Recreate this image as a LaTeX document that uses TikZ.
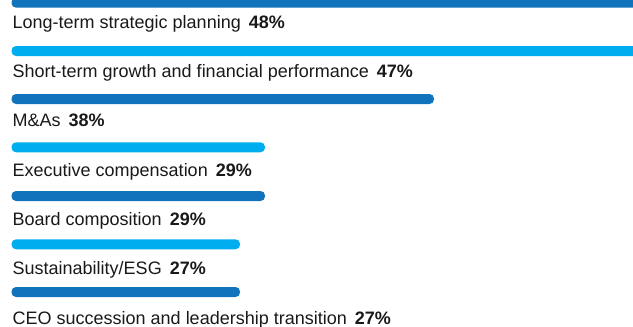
\documentclass[tikz,border=0pt]{standalone}
\usepackage{fontspec}
\setmainfont{Liberation Sans}
\usepackage{xcolor}
\definecolor{colorDark}{RGB}{16,115,188}
\definecolor{colorLight}{RGB}{0,174,239}
\colorlet{colorText}{black!90}
\usetikzlibrary{positioning}
\tikzset{
  bar/.style={rectangle, rounded corners=4.5pt, inner sep=0pt, outer sep=0pt, minimum height=10pt, anchor=north west},
  barDark/.style={bar, fill=colorDark},
  barLight/.style={bar, fill=colorLight},
  lbl/.style={inner sep=0pt, outer sep=0pt, anchor=base west, text=colorText, font=\fontsize{18}{20}\selectfont},
  pct/.style={lbl, font=\fontsize{18}{20}\selectfont\bfseries},
}

\begin{document}
\begin{tikzpicture}[x=1pt, y=-1pt]
\path[use as bounding box, clip] (0,0) rectangle (633,327);
% bars
\node[barDark, minimum width=650pt] (b1) at (11.5,-2.3) {};
\node[barLight, minimum width=650pt] (b2) at (11.5,46) {};
\node[barDark, minimum width=422.5pt] (b3) at (11.5,94) {};
\node[barLight, minimum width=253.5pt] (b4) at (11.5,142.3) {};
\node[barDark, minimum width=253.5pt] (b5) at (11.5,191) {};
\node[barLight, minimum width=228.5pt] (b6) at (11.5,239.3) {};
\node[barDark, minimum width=228.5pt] (b7) at (11.5,287) {};
% labels
\node[lbl] (l1) at (12.7,28.3) {Long-term strategic planning};
\node[lbl] (l2) at (12.7,77.6) {Short-term growth and financial performance};
\node[lbl] (l3) at (12.7,126.9) {M\&As};
\node[lbl] (l4) at (12.7,176.2) {Executive compensation};
\node[lbl] (l5) at (12.7,225.5) {Board composition};
\node[lbl] (l6) at (12.7,274.8) {Sustainability/ESG};
\node[lbl] (l7) at (12.7,324) {CEO succession and leadership transition};
% values
\node[pct, right=8pt of l1.base east, anchor=base west] (v1) {48\%};
\node[pct, right=8pt of l2.base east, anchor=base west] (v2) {47\%};
\node[pct, right=8pt of l3.base east, anchor=base west] (v3) {38\%};
\node[pct, right=8pt of l4.base east, anchor=base west] (v4) {29\%};
\node[pct, right=8pt of l5.base east, anchor=base west] (v5) {29\%};
\node[pct, right=8pt of l6.base east, anchor=base west] (v6) {27\%};
\node[pct, right=8pt of l7.base east, anchor=base west] (v7) {27\%};
\end{tikzpicture}
\end{document}
